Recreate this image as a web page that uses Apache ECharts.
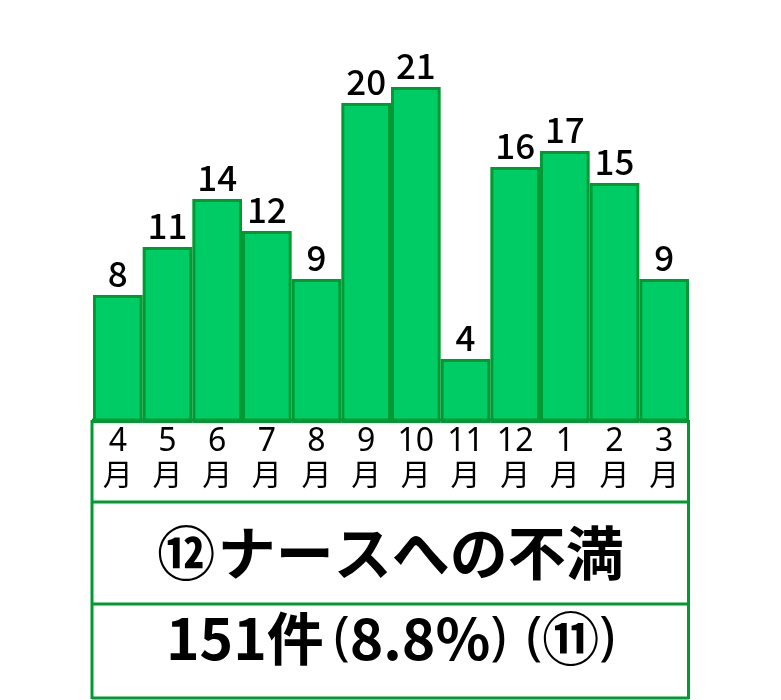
<!DOCTYPE html>
<html>
<head>
<meta charset="utf-8">
<script src="https://cdn.jsdelivr.net/npm/echarts@6/dist/echarts.min.js"></script>
<style>
html,body{margin:0;padding:0;background:#fff;}
#c{width:781px;height:700px;}
</style>
</head>
<body>
<div id="c"></div>
<script>
const months = ['4','5','6','7','8','9','10','11','12','1','2','3'];
const counts = [8, 11, 14, 12, 9, 20, 21, 4, 16, 17, 15, 9];
const titleNum = '⑫';
const titleText = 'ナースへの不満';
const summaryCount = '151件';
const summaryShare = '8.8%';
const summaryPrev = '⑪';

const FILL = '#00cc66';
const EDGE = '#009933';
const JP = '"Noto Sans CJK JP", "Noto Sans", sans-serif';
const LAT = '"Noto Sans", "Noto Sans CJK JP", sans-serif';

const B = { fontFamily: JP, fontSize: 57, fontWeight: 'bold', color: '#000' };
const P = { fontFamily: LAT, fontSize: 53, fontWeight: 'normal', color: '#000' };

const chart = echarts.init(document.getElementById('c'));
chart.setOption({
  animation: false,
  backgroundColor: '#fff',
  grid: { left: 93, right: 92, top: 23, bottom: 277, containLabel: false },
  title: [
    { text: '{n|' + titleNum + '}{s| }{t|' + titleText + '}', left: 'center', top: 519,
      textStyle: { rich: {
        n: { fontFamily: JP, fontSize: 58, fontWeight: 'bold', color: '#000' },
        s: { fontFamily: JP, fontSize: 12, color: '#000' },
        t: { fontFamily: JP, fontSize: 58, fontWeight: 'bold', color: '#000' }
      } } },
    { text: '{b|' + summaryCount + '}{g1| }{p|(}{b|' + summaryShare + '}{p|)}{g2| }{p|(}{b|' + summaryPrev + '}{p|)}',
      left: 'center', top: 605,
      textStyle: { rich: {
        b: B, p: P,
        g1: { width: 10, fontSize: 10 },
        g2: { width: 20, fontSize: 10 }
      } } }
  ],
  xAxis: {
    type: 'category',
    data: months,
    axisLine: { show: false },
    axisTick: { show: false },
    axisLabel: {
      interval: 0,
      margin: 3,
      color: '#000',
      formatter: v => '{d|' + v + '}\n{m|月}',
      rich: {
        d: { fontFamily: LAT, fontSize: 32, lineHeight: 32, color: '#000' },
        m: { fontFamily: JP, fontSize: 30, lineHeight: 32, color: '#000' }
      }
    }
  },
  yAxis: {
    type: 'value', min: 0, max: 25,
    show: false, splitLine: { show: false }
  },
  series: [{
    type: 'bar',
    data: counts,
    barWidth: '100%',
    barCategoryGap: '0%',
    itemStyle: { color: FILL, borderColor: EDGE, borderWidth: 3 },
    label: {
      show: true, position: 'top', distance: 4,
      fontFamily: JP, fontSize: 35, fontWeight: 500, color: '#000'
    }
  }],
  graphic: [
    { type: 'line', shape: { x1: 92, y1: 420, x2: 689, y2: 420 }, style: { stroke: EDGE, lineWidth: 3 }, z: 10 },
    { type: 'line', shape: { x1: 92, y1: 502, x2: 689, y2: 502 }, style: { stroke: EDGE, lineWidth: 3 }, z: 10 },
    { type: 'line', shape: { x1: 92, y1: 604, x2: 689, y2: 604 }, style: { stroke: EDGE, lineWidth: 3 }, z: 10 },
    { type: 'line', shape: { x1: 92, y1: 698, x2: 689, y2: 698 }, style: { stroke: EDGE, lineWidth: 3 }, z: 10 },
    { type: 'line', shape: { x1: 92, y1: 420, x2: 92, y2: 699 }, style: { stroke: EDGE, lineWidth: 3 }, z: 10 },
    { type: 'line', shape: { x1: 688.5, y1: 420, x2: 688.5, y2: 699 }, style: { stroke: EDGE, lineWidth: 3 }, z: 10 }
  ]
});
</script>
</body>
</html>
